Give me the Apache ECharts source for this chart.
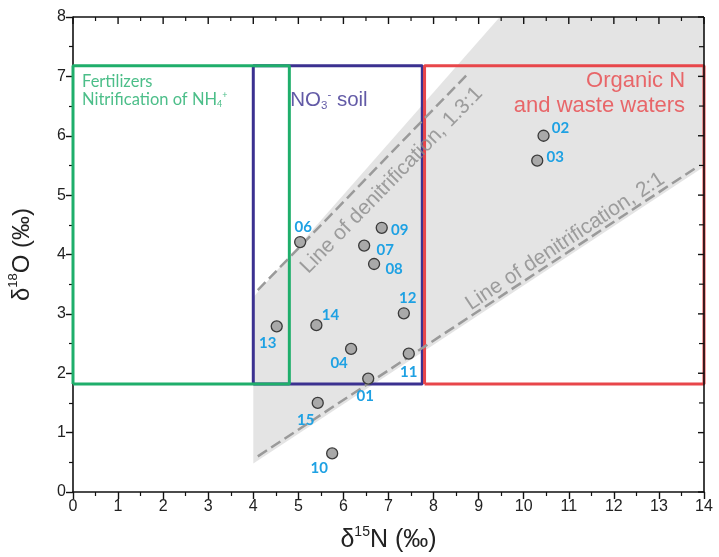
<!DOCTYPE html>
<html><head><meta charset="utf-8">
<script src="https://cdn.jsdelivr.net/npm/echarts/dist/echarts.min.js"></script>
<style>html,body{margin:0;padding:0;background:#fff}#c{width:719px;height:557px}</style>
</head><body><div id="c"></div>
<script>
// ---- data ----
const xTicks = [0,1,2,3,4,5,6,7,8,9,10,11,12,13,14];
const yTicks = [0,1,2,3,4,5,6,7,8];

const sampleIds = ['01','02','03','04','06','07','08','09','10','11','12','13','14','15'];
const sampleN15 = [6.55,10.44,10.30,6.17,5.04,6.46,6.68,6.85,5.75,7.45,7.34,4.52,5.40,5.43];
const sampleO18 = [1.91,6.00,5.58,2.41,4.21,4.15,3.84,4.45,0.65,2.33,3.01,2.79,2.81,1.50];

const boxNames = ['NO3 soil','Fertilizers','Organic N'];
const boxX0 = [4.0, 0.0, 7.8];
const boxX1 = [7.75, 4.8, 14.0];
const boxY0 = [1.82, 1.82, 1.82];
const boxY1 = [7.18, 7.18, 7.18];

const shadeX = [4.0, 14.0, 14.0, 9.47, 4.0];
const shadeY = [0.48, 5.48, 8.0, 8.0, 3.28];

const line13X = [4.1, 8.77];
const line13Y = [3.4, 7.05];
const line21X = [4.1, 13.8];
const line21Y = [0.6, 5.45];

// ---- styling ----
const boxColors = ['#3b3190', '#1fae6b', '#e8464a'];
const labelOffsets = {
  '01':[-3,18],'02':[17,-8],'03':[18,-4],'04':[-12,14],'06':[3,-15],'07':[21,5],
  '08':[20,5],'09':[18,2],'10':[-13,15],'11':[0,18],'12':[4,-15],'13':[-9,17],
  '14':[14,-10],'15':[-12,17]
};
const axisColor = '#111';
const annFont = '"Liberation Sans", Arial, sans-serif';

const xMin = xTicks[0], xMax = xTicks[xTicks.length-1];
const yMin = yTicks[0], yMax = yTicks[yTicks.length-1];
const xMinor = xTicks.slice(1).map((t,i)=>(t + xTicks[i]) / 2);
const yMinor = yTicks.slice(1).map((t,i)=>(t + yTicks[i]) / 2);

const chart = echarts.init(document.getElementById('c'), null, {renderer:'canvas'});

const boxSeries = boxNames.map((n,i)=>({
  type:'line', name:n, symbol:'none', silent:true,
  data:[[boxX0[i],boxY0[i]],[boxX1[i],boxY0[i]],[boxX1[i],boxY1[i]],[boxX0[i],boxY1[i]],[boxX0[i],boxY0[i]]],
  lineStyle:{color:boxColors[i], width:3}, z:3
}));

function dashLine(xs, ys){
  return {type:'line', symbol:'none', silent:true,
    data: xs.map((x,i)=>[x, ys[i]]),
    lineStyle:{color:'#9a9a9a', width:2.5, type:[11,5]}, z:4};
}

// top and right frame with inward ticks, placed through the axis scales
function frameItem(params, api){
  if (params.dataIndex !== 0) return null;
  const st = (w)=>({stroke:axisColor, lineWidth:w});
  const tl = api.coord([xMin, yMax]), tr = api.coord([xMax, yMax]), br = api.coord([xMax, yMin]);
  const children = [
    {type:'line', shape:{x1:tl[0], y1:tl[1], x2:tr[0], y2:tr[1]}, style:st(1.6)},
    {type:'line', shape:{x1:tr[0], y1:tr[1], x2:br[0], y2:br[1]}, style:st(1.6)}
  ];
  xTicks.forEach(t=>{ const p = api.coord([t, yMax]); children.push({type:'line', shape:{x1:p[0], y1:p[1], x2:p[0], y2:p[1]+7}, style:st(1.4)}); });
  xMinor.forEach(t=>{ const p = api.coord([t, yMax]); children.push({type:'line', shape:{x1:p[0], y1:p[1], x2:p[0], y2:p[1]+4}, style:st(1.2)}); });
  yTicks.forEach(t=>{ const p = api.coord([xMax, t]); children.push({type:'line', shape:{x1:p[0], y1:p[1], x2:p[0]-6, y2:p[1]}, style:st(1.4)}); });
  yMinor.forEach(t=>{ const p = api.coord([xMax, t]); children.push({type:'line', shape:{x1:p[0], y1:p[1], x2:p[0]-5, y2:p[1]}, style:st(1.2)}); });
  return {type:'group', children:children};
}

const annotations = [
  {value:[7.07,5.25], label:{formatter:'Line of denitrification, 1.3:1', rotate:45.8, color:'#8a8a8a', fontSize:21, fontFamily:annFont}},
  {value:[10.92,4.22], label:{formatter:'Line of denitrification, 2:1', rotate:33.4, color:'#8a8a8a', fontSize:21, fontFamily:annFont}},
  {value:[0.2,6.76], label:{align:'left', formatter:'{t|Fertilizers}\n{t|Nitrification of NH}{sub|4}{sup|+}',
     rich:{t:{color:'#1fae6b', fontSize:16.5, fontFamily:'Lato', lineHeight:18},
           sub:{color:'#1fae6b', fontSize:9, fontFamily:'Lato', verticalAlign:'bottom', lineHeight:18},
           sup:{color:'#1fae6b', fontSize:9, fontFamily:'Lato', verticalAlign:'top', lineHeight:18}}}},
  {value:[4.82,6.6], label:{align:'left', formatter:'{t|NO}{sub|3}{sup|-}{t| soil}',
     rich:{t:{color:'#3b3190', fontSize:20.5, fontFamily:annFont, lineHeight:23},
           sub:{color:'#3b3190', fontSize:11.5, fontFamily:annFont, verticalAlign:'bottom', lineHeight:23},
           sup:{color:'#3b3190', fontSize:11.5, fontFamily:annFont, verticalAlign:'top', lineHeight:23}}}},
  {value:[13.58,6.72], label:{align:'right', formatter:'Organic N\nand waste waters', color:'#e8464a', fontSize:22, lineHeight:25, fontFamily:annFont}}
];

chart.setOption({
  animation:false,
  backgroundColor:'#fff',
  textStyle:{fontFamily:annFont},
  grid:{left:73, right:15, top:17, bottom:65, outerBoundsMode:'none'},
  xAxis:{type:'value', position:'bottom', min:xMin, max:xMax, interval:1,
     axisLine:{show:true, onZero:false, lineStyle:{color:axisColor, width:1.6}},
     axisTick:{show:true, inside:false, length:7, lineStyle:{color:axisColor, width:1.4}},
     minorTick:{show:true, splitNumber:2, length:4, lineStyle:{color:axisColor, width:1.2}},
     splitLine:{show:false},
     axisLabel:{color:'#222', fontSize:16, margin:7, fontFamily:annFont},
     name:'{a|δ}{s|15}{a|N (‰)}', nameLocation:'middle', nameGap:33,
     nameTextStyle:{rich:{a:{fontSize:25, color:'#222', fontFamily:annFont, lineHeight:30},
                         s:{fontSize:14, color:'#222', fontFamily:annFont, verticalAlign:'top', lineHeight:30}}}},
  yAxis:{type:'value', position:'left', min:yMin, max:yMax, interval:1,
     axisLine:{show:true, onZero:false, lineStyle:{color:axisColor, width:1.6}},
     axisTick:{show:true, inside:false, length:7, lineStyle:{color:axisColor, width:1.4}},
     minorTick:{show:true, splitNumber:2, length:4, lineStyle:{color:axisColor, width:1.2}},
     splitLine:{show:false},
     axisLabel:{color:'#222', fontSize:16, margin:7, fontFamily:annFont},
     name:'{a|δ}{s|18}{a|O (‰)}', nameLocation:'middle', nameGap:36, nameRotate:90,
     nameTextStyle:{rich:{a:{fontSize:24, color:'#222', fontFamily:annFont, lineHeight:30},
                         s:{fontSize:13, color:'#222', fontFamily:annFont, verticalAlign:'top', lineHeight:30}}}},
  series:[
    {type:'custom', silent:true, z:1,
     data: shadeX.map((x,i)=>[x, shadeY[i]]),
     renderItem:function(params, api){
       if (params.dataIndex !== 0) return null;
       const pts = shadeX.map((x,i)=>api.coord([x, shadeY[i]]));
       return {type:'polygon', shape:{points:pts}, style:{fill:'#e4e4e4'}};
     }},
    ...boxSeries,
    dashLine(line13X, line13Y),
    dashLine(line21X, line21Y),
    {type:'scatter', symbolSize:0, silent:true, z:5,
     label:{show:true, position:'inside', align:'center', verticalAlign:'middle'},
     data: annotations},
    {type:'scatter', symbol:'circle', symbolSize:11, z:6,
     itemStyle:{color:'#a9a9a9', borderColor:'#3a3a3a', borderWidth:1.3, opacity:1},
     data: sampleIds.map((id,i)=>({value:[sampleN15[i], sampleO18[i]], name:id,
       label:{show:true, formatter:id, position:'inside', offset:labelOffsets[id],
              color:'#1ea1e3', fontSize:15, fontWeight:'bold', fontFamily:'Lato'}}))},
    {type:'custom', silent:true, z:10, clip:false,
     data:[[xMax, yMax]],
     renderItem: frameItem}
  ]
});
</script>
</body></html>
